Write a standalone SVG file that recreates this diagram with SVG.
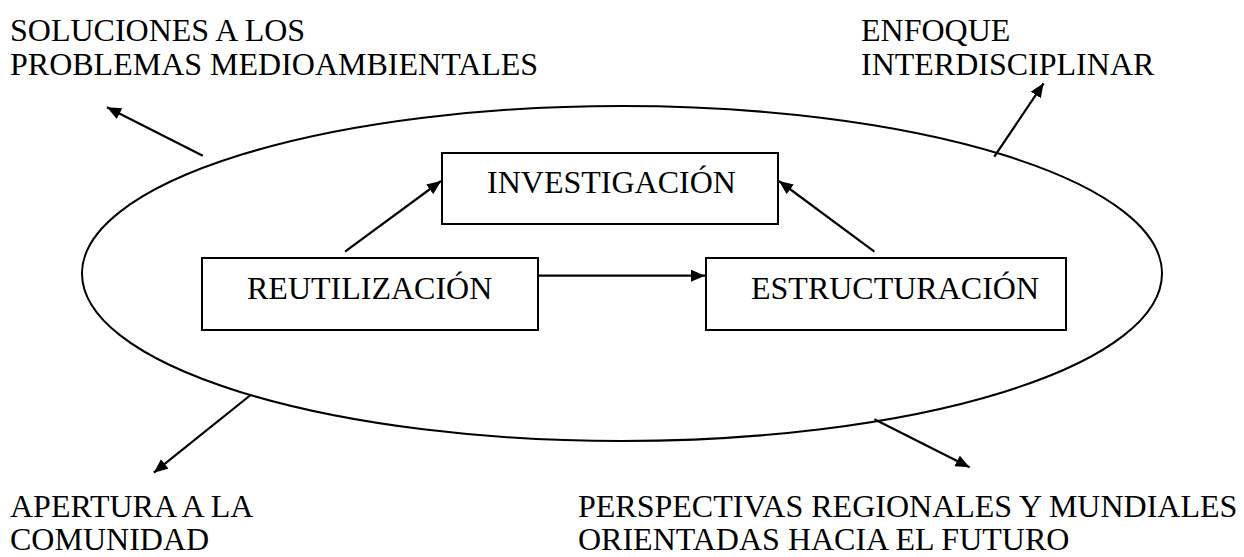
<svg xmlns="http://www.w3.org/2000/svg" width="1244" height="557" viewBox="0 0 1244 557">
<style>
text{font-family:"Liberation Serif","Times New Roman",serif;font-size:32px;fill:#000}
.box{fill:#fff;stroke:#000;stroke-width:2}
.ell{fill:none;stroke:#000;stroke-width:2}
.arr{stroke:#000;stroke-width:2.2;fill:none;marker-end:url(#ah)}
</style>
<defs>
<marker id="ah" markerUnits="userSpaceOnUse" markerWidth="16" markerHeight="14" refX="14" refY="6" orient="auto">
<path d="M0,0 L14,6 L0,12 Z" fill="#000"/>
</marker>
</defs>
<rect width="1244" height="557" fill="#fff"/>
<g id="ellipse"><ellipse class="ell" cx="622" cy="273.5" rx="540" ry="167.5"/></g>
<g id="investigacion"><rect class="box" x="442" y="153" width="336" height="71"/><text x="487" y="193">INVESTIGACIÓN</text></g>
<g id="reutilizacion"><rect class="box" x="202" y="258" width="336" height="72"/><text x="247" y="299">REUTILIZACIÓN</text></g>
<g id="estructuracion"><rect class="box" x="706" y="258" width="360" height="72"/><text x="751" y="299">ESTRUCTURACIÓN</text></g>
<g id="soluciones"><text x="10" y="41">SOLUCIONES A LOS</text><text x="10" y="75">PROBLEMAS MEDIOAMBIENTALES</text></g>
<g id="enfoque"><text x="861" y="41">ENFOQUE</text><text x="861" y="75">INTERDISCIPLINAR</text></g>
<g id="apertura"><text x="10" y="517">APERTURA A LA</text><text x="10" y="549.5">COMUNIDAD</text></g>
<g id="perspectivas"><text x="578" y="517">PERSPECTIVAS REGIONALES Y MUNDIALES</text><text x="578" y="549.5">ORIENTADAS HACIA EL FUTURO</text></g>
<g id="connectors">
<line class="arr" x1="345" y1="251.7" x2="441" y2="181"/>
<line class="arr" x1="874.4" y1="251.7" x2="779" y2="181"/>
<line class="arr" x1="538" y1="275.7" x2="705" y2="275.7"/>
<line class="arr" x1="202.8" y1="155.7" x2="107" y2="107.3"/>
<line class="arr" x1="994.3" y1="156.7" x2="1043.6" y2="83.3"/>
<line class="arr" x1="250.6" y1="395" x2="153.8" y2="472.7"/>
<line class="arr" x1="874.4" y1="419.3" x2="969.6" y2="467.3"/>
</g>
</svg>
